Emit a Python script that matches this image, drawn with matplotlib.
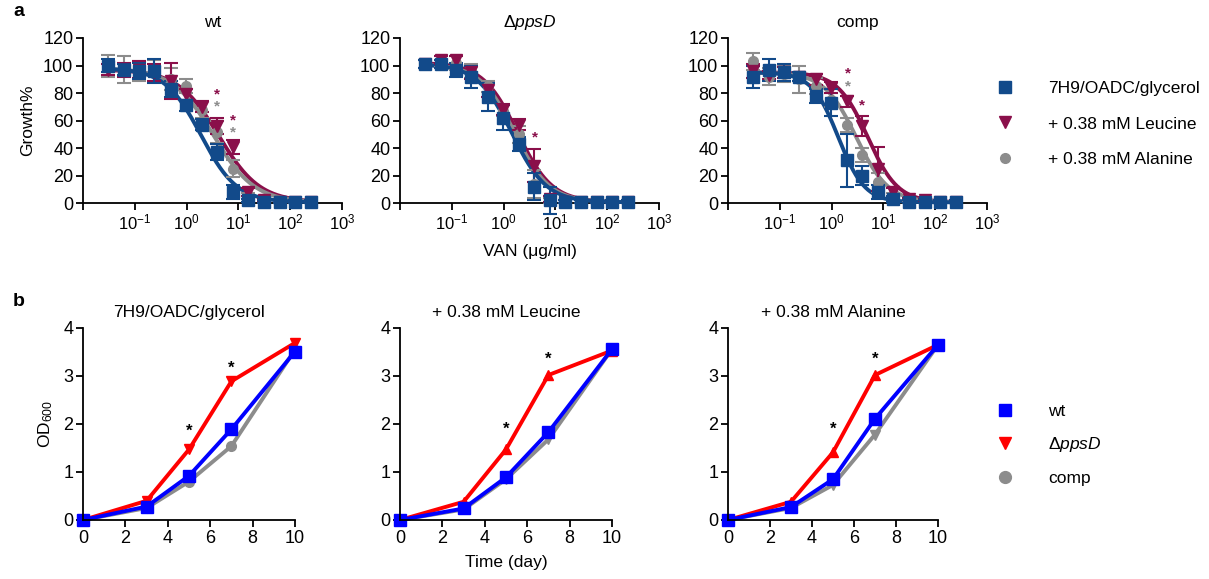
import numpy as np
import matplotlib
matplotlib.use("Agg")
from matplotlib import pyplot as plt
from matplotlib.lines import Line2D
from matplotlib.ticker import FixedLocator, FixedFormatter

plt.rcParams['font.family'] = ['Liberation Sans', 'DejaVu Sans']
plt.rcParams['mathtext.fontset'] = 'custom'
plt.rcParams['mathtext.rm'] = 'Liberation Sans'
plt.rcParams['mathtext.it'] = 'Liberation Sans:italic'
plt.rcParams['font.size'] = 12.5

# ---- panel a: vancomycin dose response ----
van = [0.03, 0.061, 0.12, 0.24, 0.49, 0.98, 1.95, 3.9, 7.8, 15.6, 31.25, 62.5, 125, 250]
a_titles = ["wt", "Δ$\\mathit{ppsD}$", "comp"]
media = ["7H9/OADC/glycerol", "+ 0.38 mM Leucine", "+ 0.38 mM Alanine"]

# growth% per strain, per medium (glycerol, leucine, alanine)
growth = {
    "wt": [
        [100, 97, 96, 96, 83, 71, 57, 37, 8, 2, 1, 1, 1, 1],
        [97, 97, 97, 95, 89, 79, 70, 56, 41, 8, 2, 1, 1, 1],
        [100, 97, 96, 96, 90, 85, 68, 52, 25, 5, 2, 1, 1, 1],
    ],
    "ppsD": [
        [101, 101, 97, 92, 77, 62, 43, 12, 2, 1, 1, 1, 1, 1],
        [101, 104, 104, 95, 82, 68, 57, 27, 3, 1, 1, 1, 1, 1],
        [101, 103, 102, 96, 85, 67, 50, 14, 2, 1, 1, 1, 1, 1],
    ],
    "comp": [
        [92, 97, 95, 92, 78, 73, 31, 20, 8, 3, 1, 1, 1, 1],
        [96, 93, 95, 92, 90, 84, 74, 56, 25, 8, 3, 2, 1, 1],
        [103, 92, 94, 90, 85, 75, 57, 35, 15, 4, 2, 1, 1, 1],
    ],
}
growth_err = {
    "wt": [
        [5, 4, 6, 9, 6, 4, 4, 6, 5, 1, 1, 1, 1, 1],
        [4, 5, 6, 6, 13, 4, 4, 6, 5, 3, 1, 1, 1, 1],
        [8, 10, 7, 8, 8, 5, 6, 8, 6, 2, 1, 1, 1, 1],
    ],
    "ppsD": [
        [3, 3, 5, 8, 10, 9, 5, 10, 10, 1, 1, 1, 1, 1],
        [3, 3, 3, 5, 5, 4, 4, 12, 2, 1, 1, 1, 1, 1],
        [3, 4, 5, 5, 4, 4, 6, 10, 2, 1, 1, 1, 1, 1],
    ],
    "comp": [
        [8, 8, 6, 3, 5, 10, 19, 7, 5, 2, 1, 1, 1, 1],
        [5, 3, 4, 3, 4, 4, 4, 7, 16, 3, 1, 1, 1, 1],
        [6, 6, 6, 10, 6, 5, 5, 5, 7, 3, 1, 1, 1, 1],
    ],
}
# 4PL fit parameters per strain/medium: (top, bottom, IC50, hill)
fits = {
    "wt": [(98, 0.5, 1.9, 1.25), (97, 0.5, 4.2, 1.1), (98, 0.5, 3.3, 1.1)],
    "ppsD": [(101, 0.5, 1.45, 1.3), (102, 0.5, 1.85, 1.3), (101, 0.5, 1.65, 1.3)],
    "comp": [(95, 0.5, 1.35, 1.7), (95, 0.5, 5.0, 1.5), (95, 0.5, 3.0, 1.4)],
}
# significance stars: (x, y, medium index)
a_stars = {
    "wt": [(3.9, 79, 1), (3.9, 70, 2), (7.8, 60, 1), (7.8, 51, 2)],
    "ppsD": [(4.1, 48, 1)],
    "comp": [(2.1, 94, 1), (2.1, 85, 2), (3.9, 71, 1)],
}

# ---- panel b: growth curves ----
days = [0, 3, 5, 7, 10]
b_titles = ["7H9/OADC/glycerol", "+ 0.38 mM Leucine", "+ 0.38 mM Alanine"]
strains = ["wt", "Δ$\\mathit{ppsD}$", "comp"]
od = [
    {"wt": [0, 0.28, 0.92, 1.89, 3.51], "ppsD": [0, 0.40, 1.47, 2.89, 3.69], "comp": [0, 0.25, 0.80, 1.54, 3.55]},
    {"wt": [0, 0.24, 0.89, 1.83, 3.56], "ppsD": [0, 0.38, 1.47, 3.02, 3.53], "comp": [0, 0.22, 0.85, 1.68, 3.56]},
    {"wt": [0, 0.27, 0.85, 2.11, 3.65], "ppsD": [0, 0.38, 1.41, 3.02, 3.65], "comp": [0, 0.25, 0.73, 1.78, 3.65]},
]
b_stars = [[(5, 1.84), (7, 3.17)], [(5, 1.90), (7, 3.34)], [(5, 1.88), (7, 3.34)]]

a_colors = ["#124a8a", "#8a0f4a", "#8c8c8c"]
a_markers = ["s", "v", "o"]
b_colors = {"wt": "#0000ff", "ppsD": "#ff0000", "comp": "#8c8c8c"}
b_markers = [
    {"wt": "s", "ppsD": "v", "comp": "o"},
    {"wt": "s", "ppsD": "^", "comp": "v"},
    {"wt": "s", "ppsD": "^", "comp": "v"},
]

W, H = 1209, 579
fig = plt.figure(figsize=(W / 100, H / 100), dpi=100)


def px_axes(x0, y0, x1, y1):
    return fig.add_axes([x0 / W, 1 - y1 / H, (x1 - x0) / W, (y1 - y0) / H])


def style(ax):
    for s in ["top", "right"]:
        ax.spines[s].set_visible(False)
    for s in ["left", "bottom"]:
        ax.spines[s].set_linewidth(1.3)
    ax.tick_params(width=1.3, length=5, direction="out", labelsize=13, pad=2)


a_left = [83, 400, 728]
keys = ["wt", "ppsD", "comp"]
for i, k in enumerate(keys):
    ax = px_axes(a_left[i], 38, a_left[i] + 259, 203)
    ax.set_xscale("log")
    ax.set_xlim(1e-2, 1e3)
    ax.set_ylim(0, 120)
    style(ax)
    ax.xaxis.set_major_locator(FixedLocator([1e-2, 1e-1, 1e0, 1e1, 1e2, 1e3]))
    ax.xaxis.set_major_formatter(FixedFormatter(["", "10$^{-1}$", "10$^{0}$", "10$^{1}$", "10$^{2}$", "10$^{3}$"]))
    ax.xaxis.set_minor_locator(FixedLocator([]))
    ax.tick_params(axis="x", labelsize=12)
    ax.set_yticks(range(0, 121, 20))
    ax.set_title(a_titles[i], fontsize=12.5, pad=8)
    xs = np.logspace(np.log10(van[0]), np.log10(van[-1]), 300)
    for j in [2, 1, 0]:
        top, bot, ic50, hill = fits[k][j]
        ax.plot(xs, bot + (top - bot) / (1 + (xs / ic50) ** hill), color=a_colors[j], lw=2.8,
                zorder=2 + j * 0.1 if j else 3, clip_on=False)
    for j in [2, 1, 0]:
        ax.errorbar(van, growth[k][j], yerr=growth_err[k][j], fmt=a_markers[j], color=a_colors[j],
                    ms=8.5 if j != 2 else 7, capsize=5, elinewidth=1.5, capthick=1.5, lw=0,
                    zorder=4, clip_on=False)
    for (sx, sy, m) in a_stars[k]:
        ax.text(sx, sy, "*", color=a_colors[m], ha="center", va="center", fontsize=11, fontweight="bold")
    if i == 0:
        ax.set_ylabel("Growth%", fontsize=12.5, labelpad=6)
    if i == 1:
        ax.set_xlabel("VAN (μg/ml)", fontsize=12.5, labelpad=8)

b_left = [83, 400, 728]
b_right = [295, 612, 938]
for i in range(3):
    ax = px_axes(b_left[i], 328, b_right[i], 520)
    ax.set_xlim(0, 10)
    ax.set_ylim(0, 4)
    style(ax)
    ax.set_xticks(range(0, 11, 2))
    ax.set_yticks(range(0, 5))
    ax.set_title(b_titles[i], fontsize=12.5, pad=8)
    for k in ["comp", "ppsD", "wt"]:
        ms = 8.5 if k == "wt" else 7
        ax.plot(days, od[i][k], marker=b_markers[i][k], color=b_colors[k], lw=2.8, ms=ms, clip_on=False)
    for (sx, sy) in b_stars[i]:
        ax.text(sx, sy, "*", color="black", ha="center", va="center", fontsize=12, fontweight="bold")
    if i == 0:
        ax.set_ylabel("OD$_{600}$", fontsize=12.5, labelpad=6)
    if i == 1:
        ax.set_xlabel("Time (day)", fontsize=12.5, labelpad=6)

# legends
a_handles = [Line2D([], [], ls="none", marker=a_markers[j], color=a_colors[j], ms=8.5 if j != 2 else 7)
             for j in range(3)]
fig.legend(a_handles, media, loc="center left", bbox_to_anchor=(996 / W, 1 - 124 / H),
           frameon=False, fontsize=12.5, handlelength=1, handletextpad=2.0, labelspacing=1.15,
           borderpad=0, borderaxespad=0)
b_handles = [Line2D([], [], ls="none", marker=["s", "v", "o"][j], color=b_colors[keys[j]], ms=8.5)
             for j in range(3)]
fig.legend(b_handles, strains, loc="center left", bbox_to_anchor=(996 / W, 1 - 445 / H),
           frameon=False, fontsize=12.5, handlelength=1, handletextpad=2.0, labelspacing=0.93,
           borderpad=0, borderaxespad=0)

fig.text(13 / W, 1 - 12 / H, "a", fontsize=14, fontweight="bold", va="center", ha="left")
fig.text(13 / W, 1 - 302 / H, "b", fontsize=14, fontweight="bold", va="center", ha="left")

fig.savefig("out.png", dpi=100)
